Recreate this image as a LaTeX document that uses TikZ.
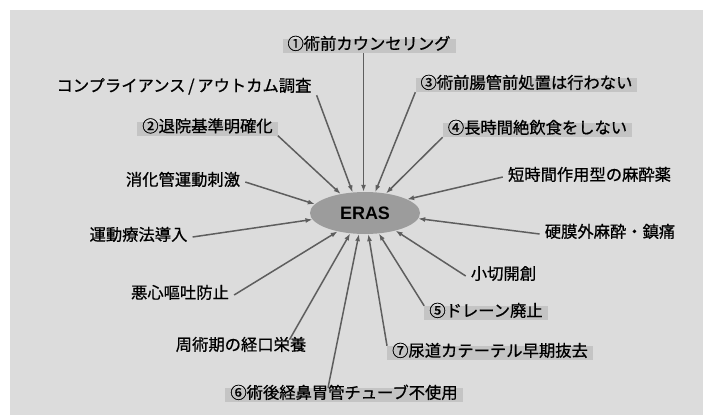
\documentclass[tikz,border=0pt]{standalone}
\usepackage{fontspec}
\newfontfamily\jp[FakeBold=0.7]{Noto Sans CJK JP}
\newfontfamily\lat{Liberation Sans}
\usetikzlibrary{shapes.geometric,arrows.meta,calc}
\definecolor{bg}{HTML}{DCDCDC}
\definecolor{hl}{HTML}{C4C4C4}
\definecolor{ell}{HTML}{9C9C9C}
\definecolor{arr}{HTML}{5E5E5E}
\begin{document}
\begin{tikzpicture}[x=1pt,y=-1pt,
 lab/.style={font=\jp\fontsize{16.3}{18}\selectfont, inner xsep=5pt, inner ysep=2pt, text height=0.86em, text depth=0.14em},
 hbox/.style={lab, fill=hl},
 ar/.style={draw=arr, line width=1.5pt, -{Latex[length=7pt,width=5pt]}}]
\useasboundingbox (0,0) rectangle (703,415);
\fill[bg] (10,10) rectangle (703,415);

\node[ellipse, fill=ell, minimum width=110pt, minimum height=42pt, inner sep=0pt,
      font=\lat\bfseries\fontsize{18}{20}\selectfont] (e) at (365,213) {ERAS};

\node[hbox] (n1) at (369,46) {①術前カウンセリング};
\node[lab] (c) at (184,88) {コンプライアンス\,/\,アウトカム調査};
\node[hbox] (n2) at (207.5,128.5) {②退院基準明確化};
\node[lab] (sh) at (183,182) {消化管運動刺激};
\node[hbox] (n3) at (526.5,85) {③術前腸管前処置は行わない};
\node[hbox] (n4) at (537.5,130) {④長時間絶飲食をしない};
\node[lab] (tj) at (589.5,177) {短時間作用型の麻酔薬};
\node[lab] (ud) at (138.5,237) {運動療法導入};
\node[lab] (km) at (610,234) {硬膜外麻酔・鎮痛};
\node[lab] (ks) at (503.5,276) {小切開創};
\node[lab] (ak) at (180,295) {悪心嘔吐防止};
\node[hbox] (n5) at (486,313) {⑤ドレーン廃止};
\node[lab] (sj) at (241,347) {周術期の経口栄養};
\node[hbox] (n7) at (490,353) {⑦尿道カテーテル早期抜去};
\node[hbox] (n6) at (344,395) {⑥術後経鼻胃管チューブ不使用};

\draw[ar] (e.94 |- n1.south) -- (e.94);
\draw[ar] (c.south east) -- (e.121);
\draw[ar] (n2.south east) -- (e.142);
\draw[ar] (sh.east) -- (e.170);
\draw[ar] (ud.east) -- (e.187);
\draw[ar] (ak.east) -- (e.214);
\draw[ar] ($(sj.north east)+(-22,0)$) -- (e.234);
\draw[ar] ($(n6.north)+(-16,0)$) -- (e.254);
\draw[ar] (n7.north west) -- (e.-81);
\draw[ar] (n5.north west) -- (e.-56);
\draw[ar] (ks.west) -- (e.-30);
\draw[ar] (km.west) -- (e.-6);
\draw[ar] (tj.west) -- (e.18);
\draw[ar] (n4.south west) -- (e.43);
\draw[ar] (n3.south west) -- (e.64);
\end{tikzpicture}
\end{document}
